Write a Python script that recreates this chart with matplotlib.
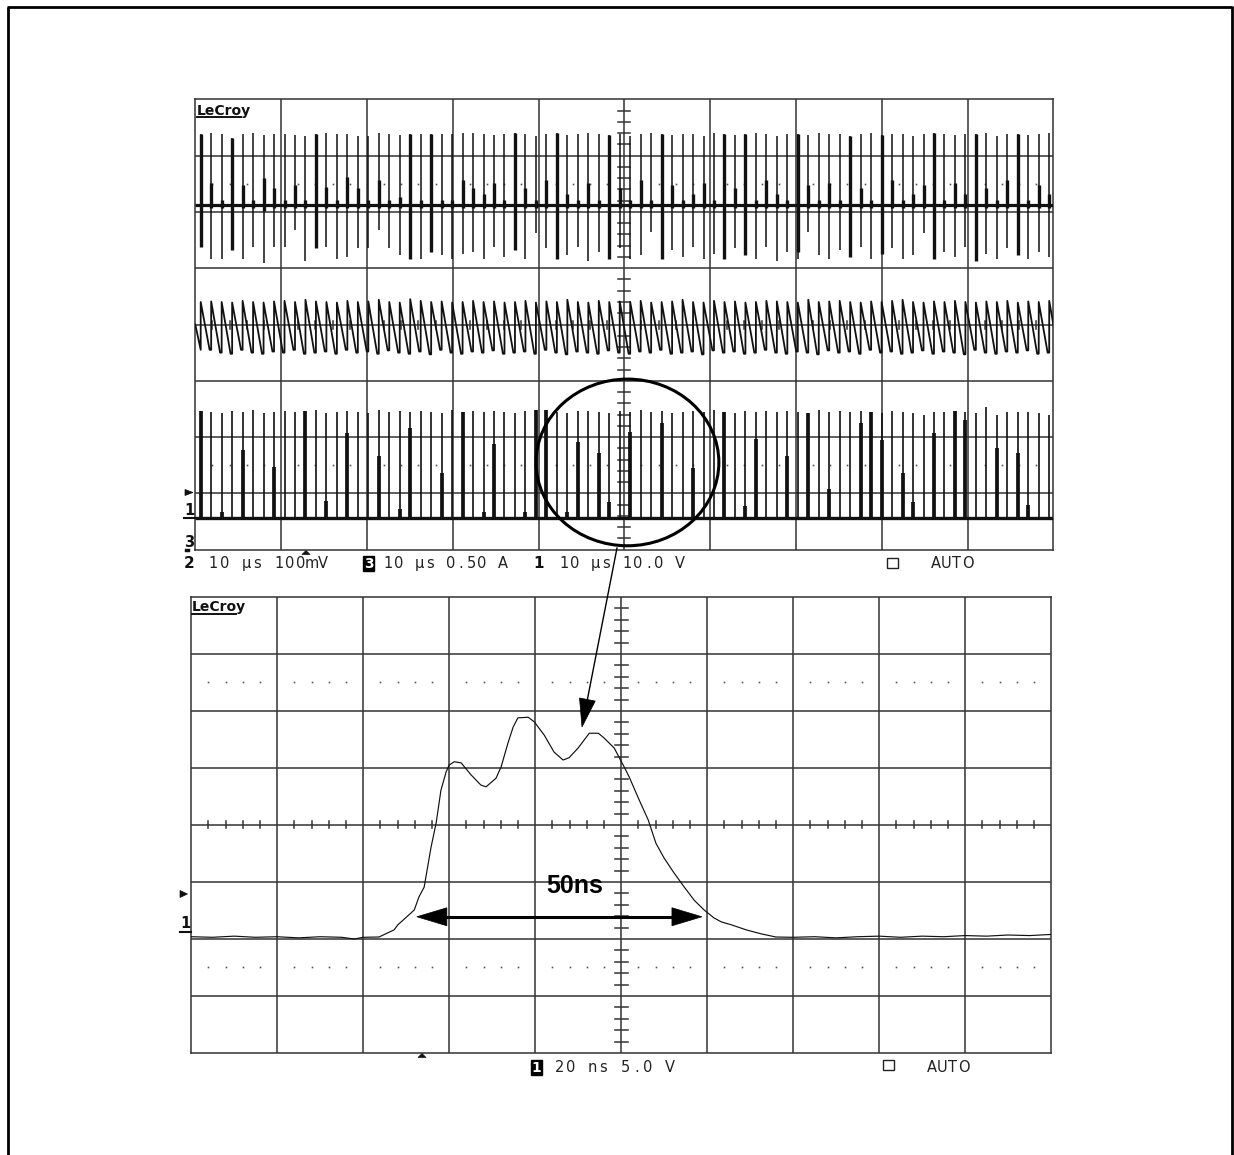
import numpy as np
import matplotlib
matplotlib.use("Agg")
import matplotlib.pyplot as plt
from matplotlib.patches import Ellipse, Polygon, Rectangle

# ---------------- data ----------------
# upper screen: 10 us/div, y in divisions
spike_first_us = 0.63
spike_period_us = 1.2209
n_spikes = 82

ch2_base = 2.12          # top trace baseline (div)
ch2_up = [1.26, 1.29, 1.26, 1.19, 1.26, 1.29, 1.24, 1.26, 1.26, 1.24,
          1.23, 1.26, 1.29, 1.26, 1.26, 1.23, 1.23, 1.29, 1.26, 1.24,
          1.26, 1.26, 1.26, 1.26, 1.26, 1.29, 1.29, 1.26, 1.24, 1.26,
          1.29, 1.26, 1.22, 1.26, 1.28, 1.24, 1.26, 1.29, 1.26, 1.24,
          1.26, 1.23, 1.26, 1.29, 1.26, 1.24, 1.26, 1.26, 1.22, 1.29,
          1.26, 1.24, 1.26, 1.29, 1.26, 1.23, 1.26, 1.26, 1.24, 1.29,
          1.26, 1.26, 1.23, 1.26, 1.29, 1.24, 1.26, 1.26, 1.22, 1.26,
          1.29, 1.26, 1.24, 1.26, 1.26, 1.29, 1.23, 1.26, 1.26, 1.24,
          1.26, 1.29]
ch2_down = [0.74, 0.95, 0.95, 0.80, 0.95, 0.74, 1.03, 0.74, 0.74, 0.44,
            1.00, 0.77, 0.74, 0.95, 0.92, 0.77, 0.77, 0.44, 0.77, 0.89,
            0.95, 0.95, 0.83, 0.89, 0.95, 0.86, 0.83, 0.95, 0.74, 0.92,
            0.80, 0.95, 0.50, 0.77, 0.95, 0.89, 0.74, 1.00, 0.83, 0.95,
            0.77, 0.95, 0.89, 0.48, 0.95, 0.80, 0.92, 0.74, 0.95, 0.86,
            0.95, 0.77, 0.89, 0.95, 0.74, 1.00, 0.83, 0.95, 0.47, 0.89,
            0.95, 0.80, 0.92, 0.74, 0.95, 0.86, 0.77, 0.95, 0.89, 0.50,
            0.95, 0.83, 0.92, 0.74, 1.00, 0.86, 0.95, 0.77, 0.89, 0.95,
            0.83, 0.92]
ch2_bold_up = [1.26, 0.39, 0.10, 1.19, 0.35, 0.10, 0.48, 0.30, 0.10, 0.35,
               0.10, 1.26, 0.32, 0.10, 0.50, 0.30, 0.10, 0.45, 0.10, 0.15,
               1.26, 0.10, 1.26, 0.10, 0.10, 0.45, 0.30, 0.20, 0.40, 0.10,
               1.29, 0.30, 0.10, 0.45, 1.28, 0.20, 0.10, 0.40, 0.10, 1.24,
               0.30, 0.10, 0.45, 0.10, 1.26, 0.35, 0.10, 0.20, 0.40, 0.10,
               1.26, 0.30, 1.26, 0.10, 0.45, 0.20, 0.10, 1.26, 0.35, 0.10,
               0.40, 0.10, 1.23, 0.30, 0.10, 1.24, 0.45, 0.10, 0.20, 0.35,
               1.29, 0.10, 0.40, 0.20, 1.26, 0.30, 0.10, 0.45, 1.26, 0.10,
               0.35, 0.20]
ch2_bold_down = [0.74, 0.05, 0.05, 0.80, 0.05, 0.05, 0.10, 0.05, 0.05, 0.05,
                 0.05, 0.77, 0.05, 0.05, 0.05, 0.05, 0.05, 0.05, 0.05, 0.05,
                 0.95, 0.05, 0.83, 0.05, 0.05, 0.05, 0.05, 0.05, 0.05, 0.05,
                 0.80, 0.05, 0.05, 0.05, 0.95, 0.05, 0.05, 0.05, 0.05, 0.95,
                 0.05, 0.05, 0.05, 0.05, 0.95, 0.05, 0.05, 0.05, 0.05, 0.05,
                 0.95, 0.05, 0.89, 0.05, 0.05, 0.05, 0.05, 0.83, 0.05, 0.05,
                 0.05, 0.05, 0.92, 0.05, 0.05, 0.86, 0.05, 0.05, 0.05, 0.05,
                 0.95, 0.05, 0.05, 0.05, 1.00, 0.05, 0.05, 0.05, 0.89, 0.05,
                 0.05, 0.05]

ch3_start = 0.0          # sawtooth level at left edge (div)
ch3_top = [0.40, 0.41, 0.40, 0.39, 0.42, 0.40, 0.39, 0.41, 0.42, 0.40,
           0.44, 0.41, 0.40, 0.39, 0.42, 0.40, 0.41, 0.44, 0.40, 0.39,
           0.45, 0.42, 0.40, 0.41, 0.39, 0.40, 0.42, 0.40, 0.41, 0.39,
           0.40, 0.42, 0.39, 0.41, 0.40, 0.44, 0.40, 0.39, 0.42, 0.40,
           0.41, 0.40, 0.42, 0.39, 0.40, 0.41, 0.44, 0.40, 0.39, 0.42,
           0.40, 0.41, 0.39, 0.40, 0.42, 0.41, 0.40, 0.39, 0.44, 0.40,
           0.41, 0.42, 0.40, 0.39, 0.41, 0.40, 0.42, 0.44, 0.40, 0.39,
           0.41, 0.40, 0.42, 0.40, 0.39, 0.41, 0.40, 0.42, 0.39, 0.41,
           0.40, 0.42]
ch3_bottom = [-0.45, -0.50, -0.52, -0.45, -0.50, -0.52, -0.48, -0.50, -0.45, -0.52,
              -0.50, -0.48, -0.52, -0.45, -0.50, -0.48, -0.52, -0.46, -0.50, -0.52,
              -0.48, -0.53, -0.45, -0.50, -0.52, -0.48, -0.50, -0.46, -0.52, -0.50,
              -0.48, -0.52, -0.45, -0.50, -0.53, -0.48, -0.50, -0.52, -0.46, -0.50,
              -0.52, -0.48, -0.50, -0.45, -0.52, -0.50, -0.48, -0.53, -0.46, -0.50,
              -0.48, -0.52, -0.50, -0.45, -0.50, -0.52, -0.48, -0.50, -0.53, -0.46,
              -0.50, -0.48, -0.52, -0.45, -0.50, -0.48, -0.52, -0.50, -0.46, -0.52,
              -0.48, -0.50, -0.53, -0.45, -0.50, -0.52, -0.48, -0.50, -0.46, -0.52,
              -0.50, -0.48]

ch1_base = -3.43         # bottom trace baseline (div)
ch1_up = [1.90, 1.88, 1.86, 1.90, 1.88, 1.92, 1.86, 1.88, 1.90, 1.87,
          1.89, 1.92, 1.86, 1.88, 1.90, 1.88, 1.86, 1.91, 1.88, 1.89,
          1.87, 1.90, 1.88, 1.86, 1.92, 1.88, 1.90, 1.87, 1.89, 1.88,
          1.86, 1.90, 1.92, 1.92, 1.88, 1.86, 1.89, 1.90, 1.87, 1.86,
          1.90, 1.88, 1.92, 1.88, 1.90, 1.86, 1.88, 1.90, 1.87, 1.92,
          1.88, 1.86, 1.90, 1.88, 1.89, 1.87, 1.90, 1.88, 1.86, 1.92,
          1.88, 1.90, 1.87, 1.89, 1.88, 1.86, 1.90, 1.88, 1.86, 1.82,
          1.88, 1.88, 1.90, 1.87, 1.86, 1.96, 1.82, 1.88, 1.88, 1.88,
          1.86, 1.82]
ch1_bold = [1.90, 0.00, 0.10, 0.00, 1.20, 0.00, 0.00, 0.90, 0.00, 0.00,
            1.89, 0.00, 0.30, 0.00, 1.50, 0.00, 0.00, 1.10, 0.00, 0.15,
            1.60, 0.00, 0.00, 0.80, 0.00, 1.88, 0.00, 0.10, 1.30, 0.00,
            0.00, 0.10, 1.92, 1.92, 0.00, 0.10, 1.34, 0.00, 1.15, 0.28,
            0.00, 1.52, 0.00, 0.00, 1.68, 0.00, 0.00, 0.88, 0.00, 0.00,
            1.88, 0.00, 0.20, 1.40, 0.00, 0.00, 1.10, 0.00, 1.86, 0.00,
            0.50, 0.00, 0.00, 1.68, 1.88, 1.38, 0.00, 0.79, 0.28, 0.00,
            1.50, 0.00, 1.90, 1.73, 0.00, 0.00, 1.23, 0.00, 1.15, 0.22,
            0.00, 0.00]

# lower screen: 20 ns/div, y in divisions (5 V/div)
pulse_ns = [0, 5, 10, 15, 20, 25, 30, 35, 38, 40, 43.7,
            47.2, 48.1, 51.2, 51.9, 53.0, 54.2, 55.8, 57.0, 58.1, 59.3, 60.0,
            61.2, 62.8, 65.1, 67.4, 68.6, 70.9, 72.1, 73.7, 74.9, 76.0, 78.4,
            79.8, 82.1, 84.4, 86.5, 87.9, 90.0, 91.4, 92.6, 94.7, 96.0, 98.4,
            100.5, 101.9, 104.2, 106.3, 108.1, 110.0, 112.3, 114.7, 117.0,
            119.3, 121.6, 123.3, 125.6, 129.1, 132.6, 136.0, 140, 145, 150,
            155, 160, 165, 170, 175, 180, 185, 190, 195, 200]
pulse_div = [-1.96, -1.97, -1.95, -1.97, -1.96, -1.98, -1.96, -1.97, -2.00, -1.97, -1.965,
             -1.84, -1.75, -1.54, -1.49, -1.26, -1.09, -0.39, 0.04, 0.61, 0.93, 1.05,
             1.11, 1.09, 0.88, 0.70, 0.67, 0.82, 1.02, 1.44, 1.72, 1.88, 1.89,
             1.81, 1.58, 1.28, 1.14, 1.18, 1.35, 1.49, 1.61, 1.61, 1.53, 1.35,
             1.05, 0.84, 0.44, 0.09, -0.32, -0.58, -0.84, -1.09, -1.32,
             -1.49, -1.63, -1.70, -1.75, -1.84, -1.91, -1.965, -1.97, -1.96, -1.98,
             -1.96, -1.95, -1.97, -1.95, -1.96, -1.94, -1.95, -1.93, -1.94, -1.92]

width_arrow_ns = (52.5, 118.8)
width_arrow_div = -1.61
width_label = "50ns"

top_labels = [("2", "10 µs 100mV"), ("3", "10 µs 0.50 A"), ("1", "10 µs 10.0 V")]
bottom_label = ("1", "20 ns 5.0 V")

# ---------------- figure ----------------
W, H = 1234, 1155
fig = plt.figure(figsize=(W / 100, H / 100), dpi=100)
fig.patch.set_facecolor("white")
GC = "#333333"
INK = "#111111"


def add_px_axes(L, R, T, B):
    return fig.add_axes([L / W, 1 - B / H, (R - L) / W, (B - T) / H])


def scope_grid(ax, xmax, vtick_px, htick_px, px_per_div_x, px_per_div_y):
    ax.set_xlim(0, xmax)
    ax.set_ylim(-4, 4)
    ax.set_xticks([])
    ax.set_yticks([])
    for s in ax.spines.values():
        s.set_linewidth(1.1)
        s.set_color(GC)
    dx = xmax / 10.0
    for i in range(1, 10):
        ax.axvline(i * dx, color=GC, lw=1.1, zorder=1)
    for j in range(-3, 4):
        ax.axhline(j, color=GC, lw=1.1, zorder=1)
    cx = 5 * dx
    hw = vtick_px / px_per_div_x * dx
    for m in range(1, 40):
        if m % 5:
            y = -4 + m * 0.2
            ax.plot([cx - hw, cx + hw], [y, y], color=GC, lw=1.1, zorder=1)
    hh = htick_px / px_per_div_y
    for m in range(1, 50):
        if m % 5:
            x = m * 0.2 * dx
            ax.plot([x, x], [-hh, hh], color=GC, lw=1.1, zorder=1)
    xs = [m * 0.2 * dx for m in range(1, 50) if m % 5]
    for yy in (2.5, -2.5):
        ax.plot(xs, [yy] * len(xs), ls="none", marker="s", ms=1.2,
                color="#555555", mec="none", zorder=1)


# upper screen
ax1 = add_px_axes(195.3, 1053.3, 99.3, 549.7)
scope_grid(ax1, 100.0, 6, 4, 85.8, 56.3)

t = [spike_first_us + k * spike_period_us for k in range(n_spikes)]

# channel 2 (top): bipolar spikes on a thick baseline
ax1.plot([0, 100], [ch2_base, ch2_base], color=INK, lw=2.3, zorder=3,
         solid_capstyle="butt")
ax1.vlines(t, [ch2_base - d for d in ch2_down], [ch2_base + u for u in ch2_up],
           color=INK, lw=1.1, zorder=3)
ax1.vlines(t, [ch2_base - d for d in ch2_bold_down],
           [ch2_base + u for u in ch2_bold_up], color=INK, lw=2.4, zorder=3)

# channel 3 (middle): sawtooth current
sx, sy = [0.0], [ch3_start]
prev_bot = ch3_bottom[0]
for k in range(n_spikes):
    sx += [t[k], t[k], t[k] + 0.85 * spike_period_us]
    sy += [prev_bot, ch3_top[k], ch3_bottom[k]]
    prev_bot = ch3_bottom[k]
ax1.plot(sx, sy, color=INK, lw=1.3, zorder=3)

# channel 1 (bottom): unipolar pulses
ax1.plot([0, 100], [ch1_base, ch1_base], color=INK, lw=2.4, zorder=3,
         solid_capstyle="butt")
ax1.vlines(t, ch1_base, [ch1_base + u for u in ch1_up], color=INK, lw=1.2, zorder=3)
bt = [tt for tt, b in zip(t, ch1_bold) if b > 0]
bb = [ch1_base + b for b in ch1_bold if b > 0]
ax1.vlines(bt, ch1_base, bb, color=INK, lw=2.7, zorder=3)

# highlight circle
ax1.add_patch(Ellipse((50.37, -2.45), 21.3, 2.96, fill=False, ec="black",
                      lw=2.2, zorder=5))

# lower screen
ax2 = add_px_axes(191.1, 1051.1, 597.0, 1053.0)
scope_grid(ax2, 200.0, 6.5, 3.5, 86.0, 57.0)
ax2.plot(pulse_ns, pulse_div, color=INK, lw=0.85, zorder=3)
ax2.text(89.3, -1.19, width_label, ha="center", va="baseline", fontsize=18,
         fontweight="bold", family="Liberation Sans", zorder=6)

# ---------------- overlay in pixel coordinates ----------------
ov = fig.add_axes([0, 0, 1, 1])
ov.set_xlim(0, W)
ov.set_ylim(H, 0)
ov.axis("off")
ov.patch.set_visible(False)
ov.set_zorder(10)


def to_ov(ax, x, y):
    d = ax.transData.transform((x, y))
    return ov.transData.inverted().transform(d)


def arrow_head(tip, tail, L, w):
    tip = np.asarray(tip, float)
    tail = np.asarray(tail, float)
    u = (tip - tail) / np.linalg.norm(tip - tail)
    n = np.array([-u[1], u[0]])
    base = tip - L * u
    ov.add_patch(Polygon([tip, base + w * n, base - w * n], closed=True,
                         fc="black", ec="black", lw=0.5))
    return base


# outer frame
ov.plot([8, 8], [7, H], color="black", lw=2.0, solid_capstyle="butt")
ov.plot([7, 1232], [7, 7], color="black", lw=2.0, solid_capstyle="butt")
ov.plot([1232, 1232], [6, H], color="black", lw=2.0, solid_capstyle="butt")

# arrow from circle to pulse
tail = np.array([617.0, 548.0])
tip = np.array([582.0, 727.0])
b = arrow_head(tip, tail, 28, 8)
ov.plot([tail[0], b[0]], [tail[1], b[1]], color="black", lw=1.0)

# 50 ns double arrow
pl = to_ov(ax2, width_arrow_ns[0], width_arrow_div)
pr = to_ov(ax2, width_arrow_ns[1], width_arrow_div)
bl = arrow_head(pl, pr, 30, 9)
br = arrow_head(pr, pl, 30, 9)
ov.plot([bl[0], br[0]], [bl[1], br[1]], color="black", lw=2.2)

# LeCroy logos
for (x, yb) in ((197, 115), (192, 611.5)):
    ov.text(x, yb, "LeCroy", fontsize=10, fontweight="bold", va="baseline",
            ha="left", family="DejaVu Sans", color=INK)
    ov.plot([x, x + 44], [yb + 2.2, yb + 2.2], color=INK, lw=1.4)


def mono(x0, yb, s, pitch, fs=10.5):
    for i, ch in enumerate(s):
        if ch != " ":
            ov.text(x0 + (i + 0.5) * pitch, yb, ch, ha="center", va="baseline",
                    fontsize=fs, family="DejaVu Sans", color="#222222")


def inverse(xc, yb, s, fs=10):
    ov.text(xc, yb, s, ha="center", va="baseline", fontsize=fs,
            family="DejaVu Sans", fontweight="bold", color="white",
            bbox=dict(boxstyle="square,pad=0.06", fc="black", ec="black"))


# top label row
ov.text(189.5, 568, top_labels[0][0], ha="center", va="baseline", fontsize=11,
        fontweight="bold", color=INK)
mono(208, 568, top_labels[0][1], 10.9)
inverse(368.5, 567.5, top_labels[1][0])
mono(383, 568, top_labels[1][1], 10.4)
ov.text(539, 568, top_labels[2][0], ha="center", va="baseline", fontsize=11,
        fontweight="bold", color=INK)
mono(559, 568, top_labels[2][1], 10.5)
ov.add_patch(Rectangle((887, 557.5), 11, 10.5, fill=False, ec="#222222", lw=1.0))
mono(930, 568, "AUTO", 10.8)

# bottom label row
inverse(536.5, 1071.5, bottom_label[0])
mono(554, 1072, bottom_label[1], 11.0)
ov.add_patch(Rectangle((883, 1059.5), 10.5, 10.5, fill=False, ec="#222222", lw=1.0))
mono(926, 1072, "AUTO", 10.8)

# channel markers at the left of the screens
ov.add_patch(Polygon([(185, 489.5), (185, 495.5), (193, 492.5)], fc=INK, ec=INK, lw=0.5))
ov.text(189.5, 515, "1", ha="center", va="baseline", fontsize=10.5, fontweight="bold", color=INK)
ov.plot([184, 196], [517.5, 517.5], color=INK, lw=1.5)
ov.text(189.5, 547, "3", ha="center", va="baseline", fontsize=10.5, fontweight="bold", color=INK)
ov.add_patch(Rectangle((185, 548.5), 4.5, 3, fc=INK, ec=INK, lw=0.3))

ov.add_patch(Polygon([(180, 890.5), (180, 897.5), (187.5, 894)], fc=INK, ec=INK, lw=0.5))
ov.text(185.5, 927.5, "1", ha="center", va="baseline", fontsize=10.5, fontweight="bold", color=INK)
ov.plot([180, 191], [931.8, 931.8], color=INK, lw=1.5)

# trigger-position triangles under the screens
ov.add_patch(Polygon([(302, 554.5), (310, 554.5), (306, 550.5)], fc=INK, ec=INK, lw=0.5))
ov.add_patch(Polygon([(418, 1057.5), (426, 1057.5), (422, 1053.5)], fc=INK, ec=INK, lw=0.5))

fig.savefig("out.png", dpi=100, facecolor="white")
